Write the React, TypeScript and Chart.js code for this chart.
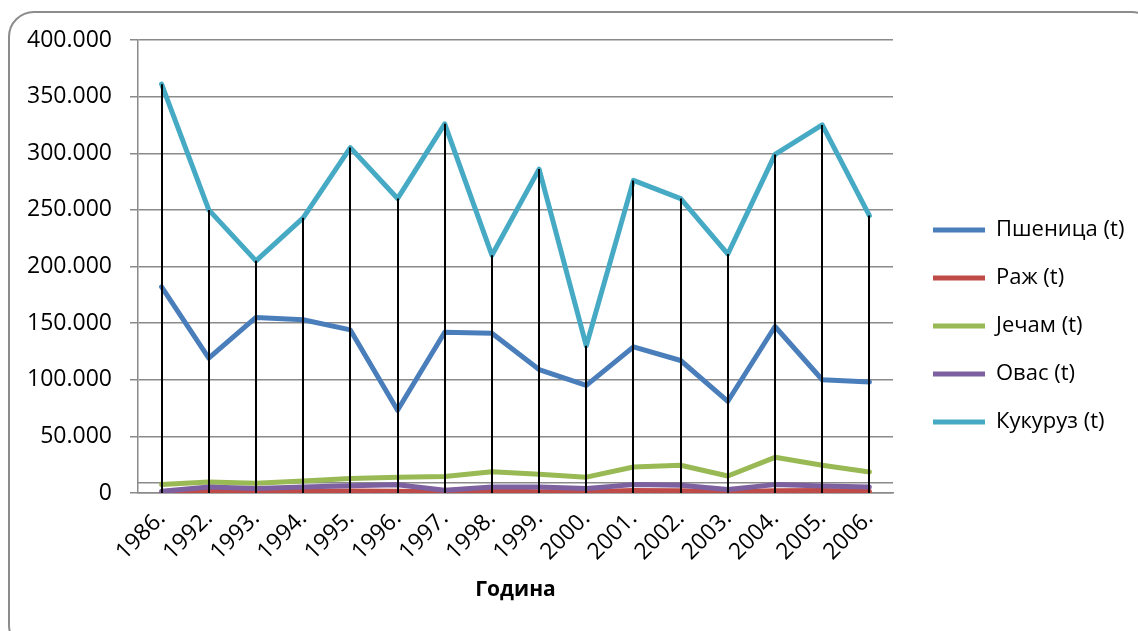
import React, { useEffect, useRef } from 'react';
import { Chart, registerables } from 'chart.js';
Chart.register(...registerables);

const categories = ['1986.', '1992.', '1993.', '1994.', '1995.', '1996.', '1997.', '1998.', '1999.', '2000.', '2001.', '2002.', '2003.', '2004.', '2005.', '2006.'];
const seriesNames = ['Пшеница (t)', 'Раж (t)', 'Јечам (t)', 'Овас (t)', 'Кукуруз (t)'];
const psenica = [182000, 119000, 155000, 153000, 144000, 73000, 142000, 141000, 109000, 95000, 129000, 117000, 81000, 147000, 100000, 98000];
const raz = [300, 1500, 1200, 1500, 1800, 1500, 1200, 1800, 1200, 1000, 2200, 2000, 1000, 2000, 2300, 1500];
const jecam = [7500, 9800, 8600, 10700, 12800, 14000, 14500, 18700, 16500, 14000, 23000, 24500, 15000, 31500, 24500, 18500];
const ovas = [1500, 5300, 3900, 5300, 6500, 7200, 2400, 5300, 5300, 3900, 7400, 6800, 3000, 7400, 6200, 5300];
const kukuruz = [361000, 250000, 205000, 243000, 305000, 260000, 326000, 210000, 286000, 130000, 276000, 260000, 211000, 299000, 325000, 245000];
const seriesColors = ['#4A7EBB', '#BE4B48', '#98B954', '#7D60A0', '#46AAC5'];
const yMin = 0;
const yMax = 400000;
const yStep = 50000;
const crossLineValue = 9000;
const xTitle = 'Година';

const allSeries = [psenica, raz, jecam, ovas, kukuruz];
const FONT = "'Open Sans', sans-serif";
const GRID = '#8a8a8a';
const W = 1138;
const H = 631;
const PLOT_RIGHT = 893;
const LEGEND_PAD = 26;
const LEGEND_BOX = 52;
const LEGEND_FONT = 22;
const LEGEND_SHIFT = 14;

const fmt = (v: number) => String(v).replace(/\B(?=(\d{3})+(?!\d))/g, '.');

const dropLines = {
  id: 'dropLines',
  afterLayout(chart: any) {
    if (chart.legend) {
      chart.legend.left += LEGEND_SHIFT;
      chart.legend.right += LEGEND_SHIFT;
    }
  },
  beforeDatasetsDraw(chart: any) {
    const { ctx, chartArea, scales } = chart;
    const y = scales.y;
    ctx.save();
    ctx.strokeStyle = GRID;
    ctx.lineWidth = 1.5;
    const py = y.getPixelForValue(crossLineValue);
    ctx.beginPath();
    ctx.moveTo(chartArea.left, py);
    ctx.lineTo(chartArea.right, py);
    ctx.stroke();
    ctx.restore();
  },
  afterDatasetsDraw(chart: any) {
    const { ctx, scales } = chart;
    const x = scales.x;
    const y = scales.y;
    ctx.save();
    ctx.strokeStyle = '#000';
    ctx.lineWidth = 2;
    categories.forEach((_, i) => {
      const max = Math.max(...allSeries.map((s) => s[i]));
      const px = Math.round(x.getPixelForValue(i));
      ctx.beginPath();
      ctx.moveTo(px, y.getPixelForValue(max));
      ctx.lineTo(px, y.getPixelForValue(0));
      ctx.stroke();
    });
    ctx.restore();
  },
};

export default function App() {
  const ref = useRef<HTMLCanvasElement>(null);
  useEffect(() => {
    if (!ref.current) return;
    const mctx = ref.current.getContext('2d') as CanvasRenderingContext2D;
    mctx.font = `${LEGEND_FONT}px ${FONT}`;
    const maxText = Math.max(...seriesNames.map((n) => mctx.measureText(n).width));
    const legendWidth = LEGEND_PAD + LEGEND_BOX + LEGEND_FONT / 2 + maxText + 10;
    const padRight = Math.max(0, W - PLOT_RIGHT - legendWidth);

    const chart = new Chart(ref.current, {
      type: 'line',
      data: {
        labels: categories,
        datasets: allSeries.map((s, i) => ({
          label: seriesNames[i],
          data: s,
          borderColor: seriesColors[i],
          backgroundColor: seriesColors[i],
          borderWidth: 5,
          borderCapStyle: 'round',
          borderJoinStyle: 'round',
          pointRadius: 0,
          tension: 0,
          order: allSeries.length - i,
        })),
      },
      options: {
        animation: false,
        responsive: false,
        maintainAspectRatio: false,
        layout: { padding: { left: 20, top: 40, right: padRight, bottom: 27 } },
        plugins: {
          tooltip: { enabled: false },
          legend: {
            position: 'right',
            align: 'center',
            title: { display: true, text: '', font: { family: FONT, size: 10, lineHeight: 0.8 }, padding: 0 },
            labels: {
              font: { family: FONT, size: LEGEND_FONT },
              color: '#000',
              boxWidth: LEGEND_BOX,
              boxHeight: 5,
              padding: LEGEND_PAD,
              sort: (a: any, b: any) => a.datasetIndex - b.datasetIndex,
              generateLabels: (c: any) =>
                Chart.defaults.plugins.legend.labels.generateLabels(c).map((it: any) => ({
                  ...it,
                  lineWidth: 0,
                  fillStyle: seriesColors[it.datasetIndex],
                  strokeStyle: seriesColors[it.datasetIndex],
                })),
            },
          },
        },
        scales: {
          x: {
            type: 'category',
            offset: true,
            grid: { display: false, drawTicks: true, tickLength: 8 },
            border: { display: true, color: GRID, width: 1.5 },
            ticks: {
              font: { family: FONT, size: 23 },
              color: '#000',
              minRotation: 45,
              maxRotation: 45,
              autoSkip: false,
              padding: 4,
            },
            title: {
              display: true,
              text: xTitle,
              font: { family: FONT, size: 21, weight: 'bold' },
              color: '#000',
              padding: { top: 0, bottom: 1 },
            },
            afterFit: (s: any) => {
              s.height = 111;
            },
          },
          y: {
            type: 'linear',
            position: 'left',
            min: yMin,
            max: yMax,
            grid: { color: GRID, lineWidth: 1.5, tickLength: 8, drawTicks: true },
            border: { display: true, color: GRID, width: 1.5 },
            ticks: {
              stepSize: yStep,
              font: { family: FONT, size: 23 },
              color: '#000',
              padding: 18,
              callback: (v: any) => fmt(Number(v)),
            },
            afterFit: (s: any) => {
              s.width = 118;
            },
          },
        },
      },
      plugins: [dropLines],
    } as any);
    return () => chart.destroy();
  }, []);

  return (
    <div style={{ position: 'fixed', left: 0, top: 0, width: W, height: H, overflow: 'hidden', background: '#fff' }}>
      <div
        style={{
          position: 'absolute',
          left: 8,
          top: 11,
          width: 1150,
          height: 640,
          border: '2px solid #8c8c8c',
          borderRadius: 26,
          boxSizing: 'border-box',
        }}
      />
      <canvas ref={ref} width={W} height={H} style={{ position: 'absolute', left: 0, top: 0, width: W, height: H }} />
    </div>
  );
}
